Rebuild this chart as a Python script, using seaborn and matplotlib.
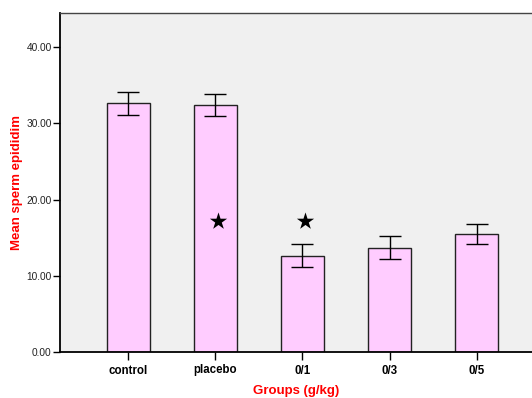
import matplotlib
matplotlib.use("Agg")
import matplotlib.pyplot as plt
import seaborn as sns
import pandas as pd

groups = ["control", "placebo", "0/1", "0/3", "0/5"]
means = [32.6, 32.4, 12.6, 13.7, 15.5]
errors = [1.5, 1.45, 1.5, 1.48, 1.35]
star_groups = ["placebo", "0/1"]
star_values = [17.2, 17.2]
yticks = [0, 10, 20, 30, 40]

sns.set_theme(style="white")
plt.rcParams['font.family'] = ['Liberation Sans', 'DejaVu Sans']

df = pd.DataFrame({"group": groups, "mean": means})

fig = plt.figure(figsize=(5.32, 3.98), dpi=100)
ax = fig.add_axes([60/532, 46/398, 1 - 60/532, (352-13)/398])
ax.set_facecolor("#F0F0F0")

sns.barplot(data=df, x="group", y="mean", order=groups, color="#FFCCFF",
            saturation=1, width=0.5, edgecolor="#222222", linewidth=1.0,
            errorbar=None, ax=ax)

xpos = [groups.index(g) for g in groups]
ax.errorbar(xpos, means, yerr=errors, fmt="none", ecolor="black",
            elinewidth=1.0, capsize=7.9, capthick=1.0, zorder=5)

star_x = [groups.index(g) + 0.03 for g in star_groups]
ax.scatter(star_x, star_values, marker="*", s=170, color="black", zorder=6,
           linewidths=0)

ax.set_xlim(-0.785, 4.636)
ax.set_ylim(0, 44.46)
ax.set_yticks(yticks)
ax.set_yticklabels([f"{v:.2f}" for v in yticks], fontsize=7.3, color="#222222")
ax.set_xticks(xpos)
ax.set_xticklabels(groups, fontsize=8.3, fontweight="bold", color="black")
ax.tick_params(axis="y", left=True, direction="out", length=5, width=1, color="black", pad=1)
ax.tick_params(axis="x", bottom=True, direction="out", length=6, width=1, color="black", pad=3)

ax.set_xlabel("Groups (g/kg)", fontsize=9.5, fontweight="bold", color="red", labelpad=6)
ax.set_ylabel("Mean sperm epididim", fontsize=9.5, fontweight="bold", color="red")
ax.yaxis.set_label_coords(-0.078, 0.5)

for side in ["left", "bottom"]:
    ax.spines[side].set_color("black")
    ax.spines[side].set_linewidth(1.3)
ax.spines["top"].set_color("#444444")
ax.spines["top"].set_linewidth(1.0)
ax.spines["right"].set_visible(False)

fig.savefig("out.png", dpi=100)
